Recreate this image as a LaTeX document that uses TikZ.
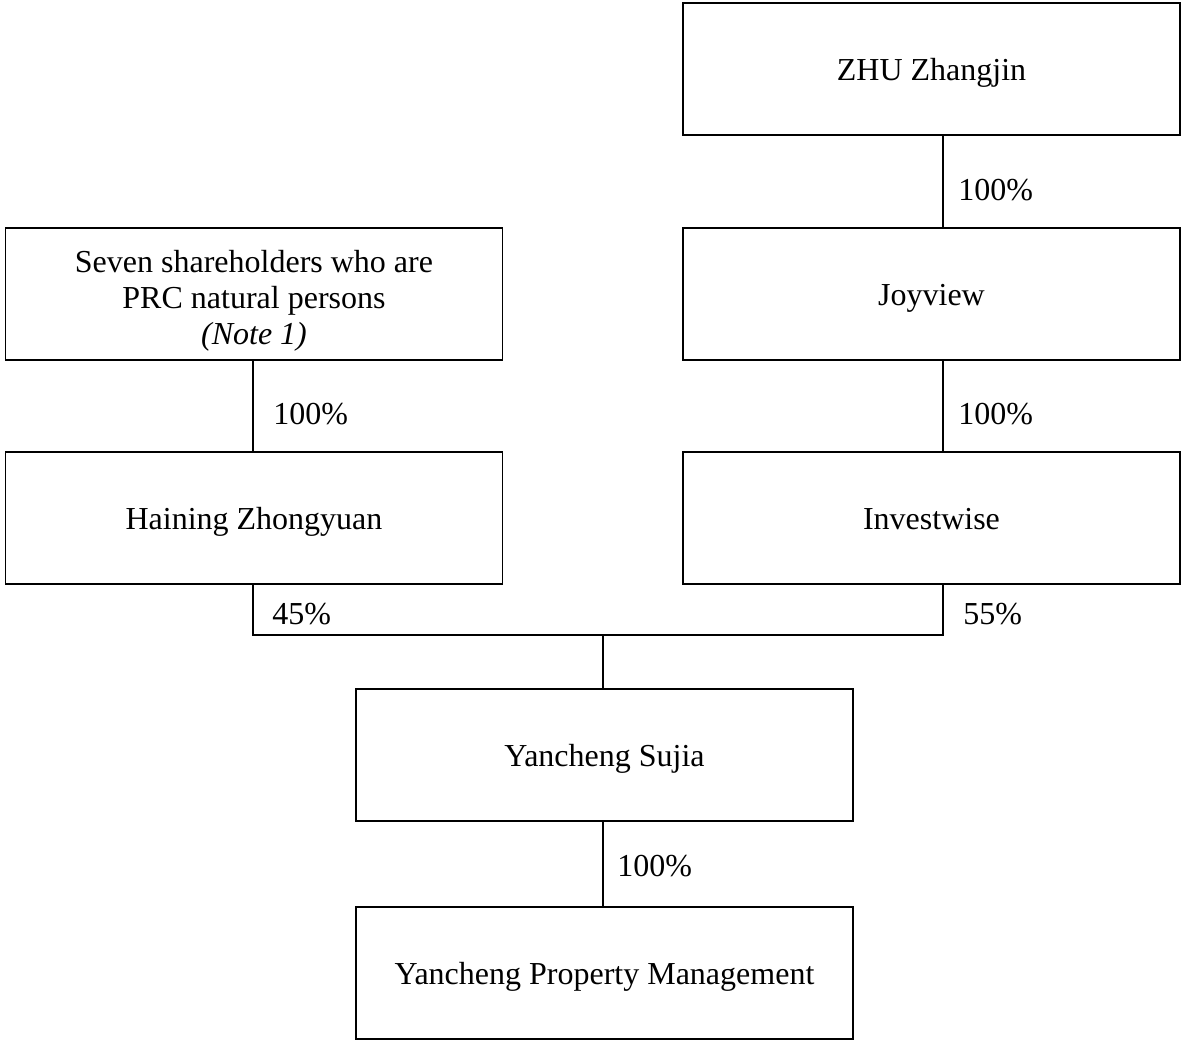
\documentclass[tikz,border=0pt]{standalone}
\usepackage{fontspec}
\setmainfont{Liberation Serif}
\begin{document}
\begin{tikzpicture}[x=0.5pt,y=-0.5pt,
  box/.style={draw,line width=0.75pt,minimum width=248.5pt,minimum height=66pt,inner sep=0pt,align=center,font=\fontsize{16}{18}\selectfont},
  onebox/.style={box,text height=14pt,text depth=3pt},
  pct/.style={anchor=base west,inner sep=0pt,font=\fontsize{16}{18}\selectfont},
  conn/.style={line width=0.75pt}]
\useasboundingbox (0,0) rectangle (1182,1041);
\node[onebox] (zhu) at (931.5,69) {ZHU Zhangjin};
\node[onebox] (joy) at (931.5,294) {Joyview};
\node[onebox] (inv) at (931.5,518) {Investwise};
\node[box] (sev) at (254,294) {\rule{0pt}{18pt}Seven shareholders who are\\PRC natural persons\\\textit{(Note 1)}};
\node[onebox] (hai) at (254,518) {Haining Zhongyuan};
\node[onebox] (suj) at (604.5,755) {Yancheng Sujia};
\node[onebox] (ypm) at (604.5,973) {Yancheng Property Management};
\coordinate (rx) at (943,0);
\coordinate (lx) at (253,0);
\coordinate (mx) at (603,0);
\coordinate (jy) at (0,635);
\coordinate (jl) at (jy -| lx);
\coordinate (jr) at (jy -| rx);
\coordinate (jm) at (jy -| mx);
\draw[conn] (zhu.south -| rx) -- (joy.north -| rx);
\draw[conn] (joy.south -| rx) -- (inv.north -| rx);
\draw[conn] (sev.south -| lx) -- (hai.north -| lx);
\draw[conn] (hai.south -| lx) -- (jl) -- (jr) -- (inv.south -| rx);
\draw[conn] (jm) -- (suj.north -| mx);
\draw[conn] (suj.south -| mx) -- (ypm.north -| mx);
\node[pct] (p1) at (958,200) {100\%};
\node[pct] (p2) at (958,424) {100\%};
\node[pct] (p3) at (273,424) {100\%};
\node[pct] (p4) at (272,624) {45\%};
\node[pct] (p5) at (963,624) {55\%};
\node[pct] (p6) at (617,876) {100\%};
\end{tikzpicture}
\end{document}
